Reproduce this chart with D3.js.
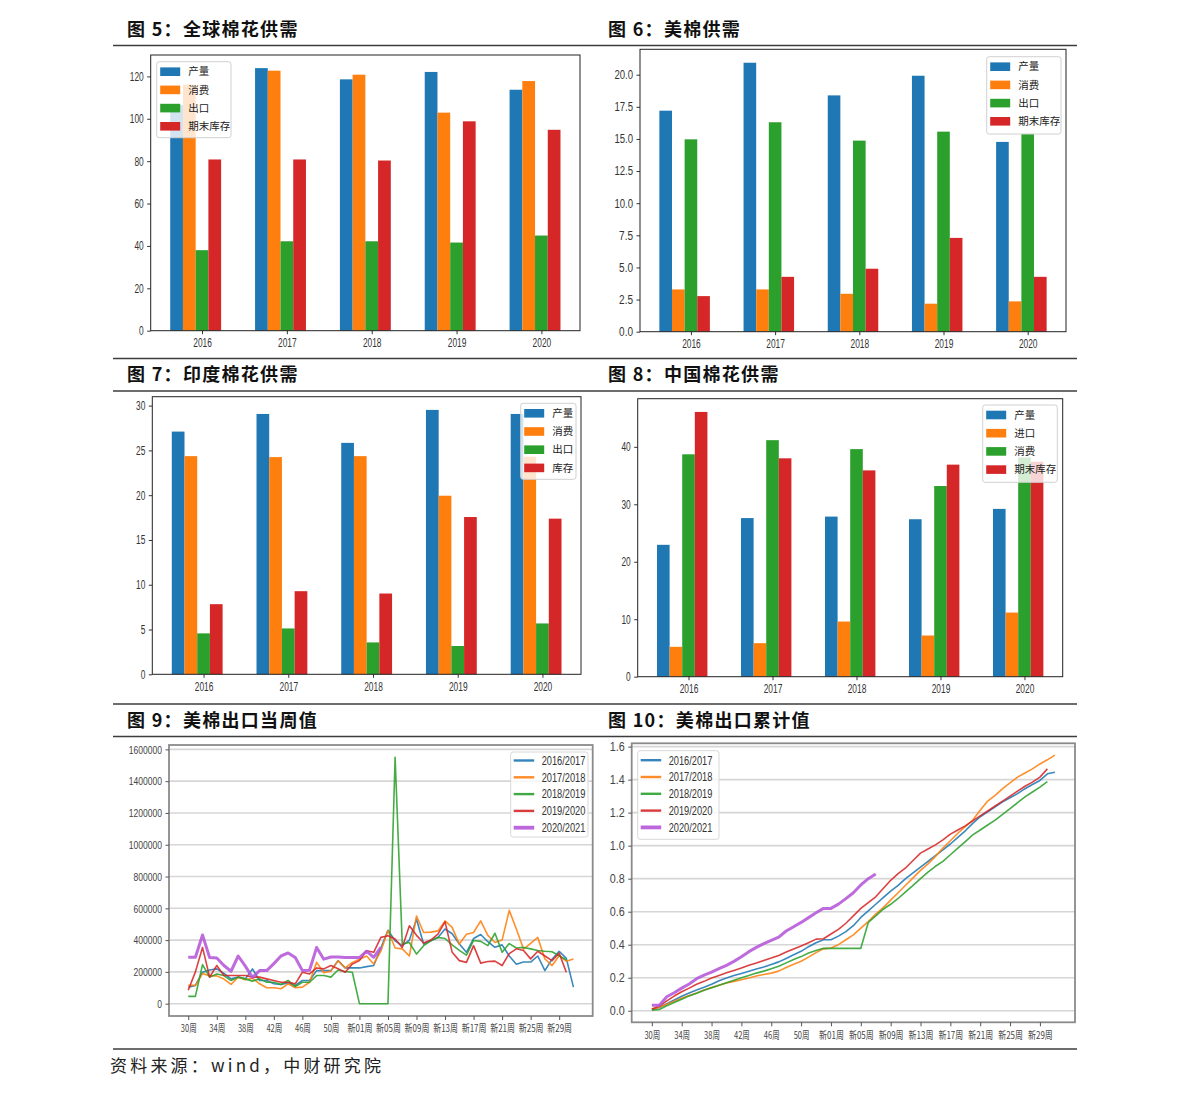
<!DOCTYPE html>
<html><head><meta charset="utf-8">
<script src="https://cdn.jsdelivr.net/npm/d3@7"></script>
<style>
body{margin:0;background:#fff;}
svg{display:block;}
</style></head><body>
<svg id="c" width="1191" height="1097"></svg>
<script>
// ---------------- DATA ----------------
const years = ["2016","2017","2018","2019","2020"];

// 图5 全球棉花供需
const worldProd   = [106.5,123.9,118.6,122.1,113.7];
const worldCons   = [116.1,122.7,120.8,102.9,117.8];
const worldExport = [38.0,42.2,42.2,41.6,44.9];
const worldStock  = [80.8,80.8,80.3,98.8,94.8];

// 图6 美棉供需
const usProd   = [17.2,20.93,18.39,19.92,14.77];
const usCons   = [3.29,3.29,2.95,2.18,2.36];
const usExport = [14.97,16.3,14.87,15.57,15.4];
const usStock  = [2.77,4.27,4.9,7.3,4.27];

// 图7 印度棉花供需
const indiaProd   = [27.1,29.07,25.84,29.52,29.07];
const indiaCons   = [24.36,24.25,24.36,19.94,24.3];
const indiaExport = [4.57,5.12,3.56,3.16,5.68];
const indiaStock  = [7.83,9.28,9.02,17.56,17.38];

// 图8 中国棉花供需
const chinaProd   = [22.95,27.6,27.86,27.4,29.2];
const chinaImport = [5.2,5.84,9.6,7.17,11.16];
const chinaCons   = [38.7,41.16,39.6,33.18,38.15];
const chinaStock  = [46.07,38.0,35.9,36.9,37.4];

const ticks5 = [0,20,40,60,80,100,120];
const ticks6 = [0,2.5,5,7.5,10,12.5,15,17.5,20];
const ticks7 = [0,5,10,15,20,25,30];
const ticks8 = [0,10,20,30,40];

// 图9 美棉出口当周值 (weekly, index 0 = 30周)
const wk1617 = [104000,115000,198000,212000,219000,190000,156000,167000,156000,219000,
  146000,146000,125000,121000,130000,115000,146000,146000,208000,208000,
  208000,271000,225000,225000,225000,233000,240000,350000,462000,396000,
  365000,400000,531000,375000,396000,417000,470000,440000,375000,323000,
  410000,435000,390000,355000,370000,300000,248000,262000,262000,300000,
  208000,280000,330000,285000,104000];
const wk1718 = [115000,115000,190000,175000,175000,155000,121000,167000,150000,160000,
  125000,100000,100000,94000,125000,100000,104000,135000,260000,195000,
  205000,270000,225000,260000,280000,300000,250000,330000,460000,350000,
  345000,300000,552000,448000,450000,458000,521000,480000,375000,437000,
  448000,521000,430000,385000,400000,587000,470000,344000,380000,417000,
  281000,240000,302000,267000,281000];
const wk1819 = [46000,46000,246000,167000,187000,177000,146000,167000,156000,142000,
  156000,135000,135000,121000,146000,108000,135000,135000,177000,177000,
  167000,212000,202000,198000,0,0,0,0,0,1550000,
  375000,385000,312000,365000,396000,417000,410000,370000,335000,305000,
  398000,392000,365000,443000,323000,378000,350000,354000,345000,335000,
  330000,327000,302000,275000];
const wk1920 = [85000,200000,354000,167000,240000,177000,177000,177000,177000,167000,
  167000,156000,146000,135000,135000,125000,198000,187000,225000,219000,
  240000,220000,198000,250000,271000,333000,323000,417000,427000,407000,
  354000,490000,430000,382000,400000,438000,515000,323000,271000,260000,
  365000,255000,265000,268000,240000,315000,345000,334000,282000,330000,
  300000,271000,318000,198000];
const wk2021 = [292000,292000,432000,290000,288000,240000,204000,300000,236000,165000,
  208000,208000,252000,300000,319000,290000,208000,210000,354000,280000,
  294000,294000,290000,290000,290000,330000,292000,355000];

// 图10 美棉出口累计值
const cum1617 = [.008,.02,.042,.065,.088,.108,.125,.142,.16,.182,
  .198,.213,.226,.239,.253,.265,.28,.296,.317,.339,
  .36,.388,.412,.43,.43,.452,.479,.515,.565,.605,
  .645,.685,.725,.76,.8,.835,.87,.905,.94,.975,
  1.01,1.05,1.09,1.135,1.175,1.205,1.235,1.265,1.29,1.315,
  1.345,1.37,1.395,1.435,1.445];
const cum1718 = [.008,.022,.04,.058,.075,.093,.108,.125,.14,.155,
  .168,.178,.188,.198,.21,.22,.228,.24,.262,.282,
  .3,.325,.352,.375,.38,.4,.43,.46,.5,.54,
  .585,.625,.67,.715,.76,.805,.85,.89,.935,.985,
  1.03,1.075,1.115,1.155,1.215,1.27,1.305,1.345,1.38,1.415,
  1.44,1.465,1.495,1.52,1.548];
const cum1819 = [.004,.008,.03,.05,.07,.09,.106,.124,.14,.155,
  .17,.185,.2,.213,.228,.24,.255,.27,.29,.31,
  .328,.35,.365,.378,.378,.378,.378,.378,.378,.535,
  .575,.615,.645,.68,.72,.76,.8,.84,.875,.905,
  .945,.985,1.025,1.065,1.095,1.125,1.155,1.19,1.225,1.26,
  1.295,1.325,1.355,1.388];
const cum1920 = [.01,.028,.06,.089,.115,.137,.16,.178,.198,.214,
  .23,.244,.259,.275,.289,.305,.319,.335,.356,.374,
  .392,.412,.434,.436,.465,.493,.53,.575,.62,.655,
  .69,.74,.79,.83,.865,.91,.955,.98,1.005,1.035,
  1.07,1.095,1.12,1.15,1.18,1.21,1.24,1.27,1.3,1.33,
  1.36,1.385,1.415,1.465];
const cum2021 = [.034,.034,.085,.109,.137,.162,.194,.216,.234,.255,
  .275,.299,.327,.358,.384,.406,.426,.446,.483,.509,
  .535,.564,.594,.62,.62,.646,.679,.715,.762,.8,.828];

const seasons = ["2016/2017","2017/2018","2018/2019","2019/2020","2020/2021"];
const weekTickLabels = ["30周","34周","38周","42周","46周","50周","新01周","新05周","新09周","新13周","新17周","新21周","新25周","新29周"];
const ticks9 = [0,200000,400000,600000,800000,1000000,1200000,1400000,1600000];
const ticks10 = [0,0.2,0.4,0.6,0.8,1.0,1.2,1.4,1.6];

// ---------------- DRAW ----------------
const svg = d3.select("#c");
const CJK = "'Noto Sans CJK SC','Noto Sans',sans-serif";
const NUM = "'Liberation Sans','DejaVu Sans',sans-serif";
const C = {blue:"#1f77b4", orange:"#ff7f0e", green:"#2ca02c", red:"#d62728", purple:"#b558d8"};

// squeeze narrow (SimHei-like) labels: ASCII chars narrow, CJK full
function squeeze(sel, asciiW, cjkW){
  sel.attr("textLength", function(){
      const s = this.textContent; let w = 0;
      for (const ch of s) w += /[\x00-\x7f]/.test(ch) ? asciiW : cjkW;
      return w;
    }).attr("lengthAdjust","spacingAndGlyphs");
}

function barChart(o){
  const x = d3.scaleLinear().domain([-0.605,4.455]).range([o.l,o.r]);
  const ymax = d3.max(o.series.flatMap(s=>s.values))*1.05;
  const y = d3.scaleLinear().domain([0,ymax]).range([o.b,o.t]);
  const g = svg.append("g");
  const w = 0.15;
  o.series.forEach((s,k)=>{
    g.selectAll(null).data(s.values).join("rect")
      .attr("x",(d,i)=>x(i+(k-2)*w-w/2))
      .attr("width",x(w)-x(0))
      .attr("y",d=>y(d))
      .attr("height",d=>y(0)-y(d))
      .attr("fill",s.color);
  });
  const ya = g.append("g").attr("transform",`translate(${o.l},0)`)
    .call(d3.axisLeft(y).tickValues(o.ticks).tickSize(3.5).tickPadding(3.5).tickFormat(o.fmt));
  const xa = g.append("g").attr("transform",`translate(0,${o.b})`)
    .call(d3.axisBottom(x).tickValues([0,1,2,3,4]).tickSize(3.5).tickPadding(4.5).tickFormat(i=>years[i]));
  [ya,xa].forEach(a=>{
    a.select(".domain").remove();
    a.selectAll("line").attr("stroke","#333");
    a.selectAll("text").attr("font-family",NUM).attr("font-size","12px").attr("fill","#333")
      .call(squeeze,4.65,10);
  });
  g.append("rect").attr("x",o.l).attr("y",o.t).attr("width",o.r-o.l).attr("height",o.b-o.t)
    .attr("fill","none").attr("stroke","#222").attr("stroke-width",1);
  const L = o.legend;
  const lg = g.append("g");
  lg.append("rect").attr("x",L.x).attr("y",L.y).attr("width",L.w).attr("height",L.h)
    .attr("rx",2.5).attr("fill","#fff").attr("fill-opacity",0.8).attr("stroke","#d0d0d0");
  o.series.forEach((s,k)=>{
    const cy = L.y+10+k*18.2;
    lg.append("rect").attr("x",L.x+3.5).attr("y",cy-4.3).attr("width",20).attr("height",8.6).attr("fill",s.color);
    lg.append("text").attr("x",L.x+31.5).attr("y",cy).attr("dy","0.36em")
      .attr("font-family",CJK).attr("font-size","10.5px").attr("fill","#222").text(s.name);
  });
}

function lineChart(o){
  const x = d3.scaleLinear().domain([-2.7,56.7]).range([o.l,o.r]);
  const y = d3.scaleLinear().domain(o.ydom).range([o.b,o.t]);
  const g = svg.append("g");
  g.append("rect").attr("x",o.l).attr("y",o.t).attr("width",o.r-o.l).attr("height",o.b-o.t).attr("fill","#fff");
  g.selectAll(null).data(o.ticks).join("line")
    .attr("x1",o.l).attr("x2",o.r).attr("y1",d=>y(d)).attr("y2",d=>y(d))
    .attr("stroke","#d6d6d6").attr("stroke-width",1.6);
  const line = d3.line().x((d,i)=>x(i)).y(d=>y(d));
  o.series.forEach(s=>{
    g.append("path").datum(s.values).attr("d",line).attr("fill","none")
      .attr("stroke",s.color).attr("stroke-width",s.width).attr("stroke-opacity",0.88)
      .attr("stroke-linejoin","round");
  });
  g.append("rect").attr("x",o.l).attr("y",o.t).attr("width",o.r-o.l).attr("height",o.b-o.t)
    .attr("fill","none").attr("stroke","#8a8a8a").attr("stroke-width",1.8);
  const ya = g.append("g").attr("transform",`translate(${o.l},0)`)
    .call(d3.axisLeft(y).tickValues(o.ticks).tickSize(3.5).tickPadding(3.5).tickFormat(o.fmt));
  const xa = g.append("g").attr("transform",`translate(0,${o.b})`)
    .call(d3.axisBottom(x).tickValues(weekTickLabels.map((d,i)=>i*4)).tickSize(4).tickPadding(o.xpad)
      .tickFormat((d,i)=>weekTickLabels[i]));
  [ya,xa].forEach(a=>{
    a.select(".domain").remove();
    a.selectAll("line").attr("stroke","#555");
  });
  ya.selectAll("text").attr("font-family",NUM).attr("font-size",o.yfs).attr("fill","#444")
    .call(squeeze,o.yw,10);
  xa.selectAll("text").attr("font-family",CJK).attr("font-size","10px").attr("fill","#444")
    .call(squeeze,3.5,8.9);
  const L = o.legend;
  const lg = g.append("g");
  lg.append("rect").attr("x",L.x).attr("y",L.y).attr("width",L.w).attr("height",L.h)
    .attr("rx",2.5).attr("fill","#fff").attr("fill-opacity",0.8).attr("stroke","#d8d8d8");
  o.series.forEach((s,k)=>{
    const cy = L.y+L.first+k*16.8;
    lg.append("line").attr("x1",L.x+3).attr("x2",L.x+23.5).attr("y1",cy).attr("y2",cy)
      .attr("stroke",s.color).attr("stroke-width",s.width+0.8).attr("stroke-opacity",0.9);
    lg.append("text").attr("x",L.x+31).attr("y",cy).attr("dy","0.36em")
      .attr("font-family",NUM).attr("font-size","12px").attr("fill","#333").text(s.name)
      .call(squeeze,4.85,10);
  });
}

// Titles and separators
const titles = [
  {x:127,y:30,t:"图 5：全球棉花供需"},{x:608,y:30,t:"图 6：美棉供需"},
  {x:127,y:375,t:"图 7：印度棉花供需"},{x:608,y:375,t:"图 8：中国棉花供需"},
  {x:127,y:720.5,t:"图 9：美棉出口当周值"},{x:608,y:720.5,t:"图 10：美棉出口累计值"}
];
titles.forEach(d=>svg.append("text").attr("x",d.x).attr("y",d.y).attr("dy","0.36em")
  .attr("font-family",CJK).attr("font-weight","bold").attr("font-size","18px")
  .attr("letter-spacing","1.3px").attr("fill","#111").text(d.t));
[45.5,358.5,391,704,736.5,1049].forEach(yy=>svg.append("line")
  .attr("x1",113).attr("x2",1077).attr("y1",yy).attr("y2",yy)
  .attr("stroke","#3c3c3c").attr("stroke-width",1.5));
svg.append("text").attr("x",110).attr("y",1066).attr("dy","0.36em")
  .attr("font-family",CJK).attr("font-size","17px").attr("letter-spacing","3.2px").attr("fill","#222")
  .text("资料来源：wind，中财研究院");

const f0 = d=>d3.format("d")(d);
const f1 = d=>d3.format(".1f")(d);

barChart({l:150.7,r:580,t:55,b:330.7,ticks:ticks5,fmt:f0,
  series:[{name:"产量",values:worldProd,color:C.blue},{name:"消费",values:worldCons,color:C.orange},
          {name:"出口",values:worldExport,color:C.green},{name:"期末库存",values:worldStock,color:C.red}],
  legend:{x:156.7,y:61.7,w:74.3,h:76}});
barChart({l:640,r:1066,t:49.3,b:331.7,ticks:ticks6,fmt:f1,
  series:[{name:"产量",values:usProd,color:C.blue},{name:"消费",values:usCons,color:C.orange},
          {name:"出口",values:usExport,color:C.green},{name:"期末库存",values:usStock,color:C.red}],
  legend:{x:986.7,y:56.7,w:74.3,h:77.3}});
barChart({l:152.3,r:581,t:396.7,b:674.3,ticks:ticks7,fmt:f0,
  series:[{name:"产量",values:indiaProd,color:C.blue},{name:"消费",values:indiaCons,color:C.orange},
          {name:"出口",values:indiaExport,color:C.green},{name:"库存",values:indiaStock,color:C.red}],
  legend:{x:520.7,y:403.3,w:55.3,h:76}});
barChart({l:637.7,r:1062.7,t:398.7,b:676.7,ticks:ticks8,fmt:f0,
  series:[{name:"产量",values:chinaProd,color:C.blue},{name:"进口",values:chinaImport,color:C.orange},
          {name:"消费",values:chinaCons,color:C.green},{name:"期末库存",values:chinaStock,color:C.red}],
  legend:{x:982.7,y:405,w:74.6,h:77.3}});

lineChart({l:169,r:592.7,t:745,b:1016,ydom:[-77500,1627500],ticks:ticks9,fmt:f0,yfs:"11.5px",yw:4.75,xpad:5,
  series:[{name:seasons[0],values:wk1617,color:C.blue,width:1.6},
          {name:seasons[1],values:wk1718,color:C.orange,width:1.6},
          {name:seasons[2],values:wk1819,color:C.green,width:1.6},
          {name:seasons[3],values:wk1920,color:C.red,width:1.6},
          {name:seasons[4],values:wk2021,color:C.purple,width:3}],
  legend:{x:510.7,y:752,w:77.3,h:85,first:8.5}});
lineChart({l:631.7,r:1075,t:743.3,b:1022.3,ydom:[-0.07,1.62],ticks:ticks10,fmt:f1,yfs:"12px",yw:5,xpad:5.5,
  series:[{name:seasons[0],values:cum1617,color:C.blue,width:1.6},
          {name:seasons[1],values:cum1718,color:C.orange,width:1.6},
          {name:seasons[2],values:cum1819,color:C.green,width:1.6},
          {name:seasons[3],values:cum1920,color:C.red,width:1.6},
          {name:seasons[4],values:cum2021,color:C.purple,width:3}],
  legend:{x:637.7,y:750.7,w:81.3,h:88.6,first:9.5}});
</script>
</body></html>
